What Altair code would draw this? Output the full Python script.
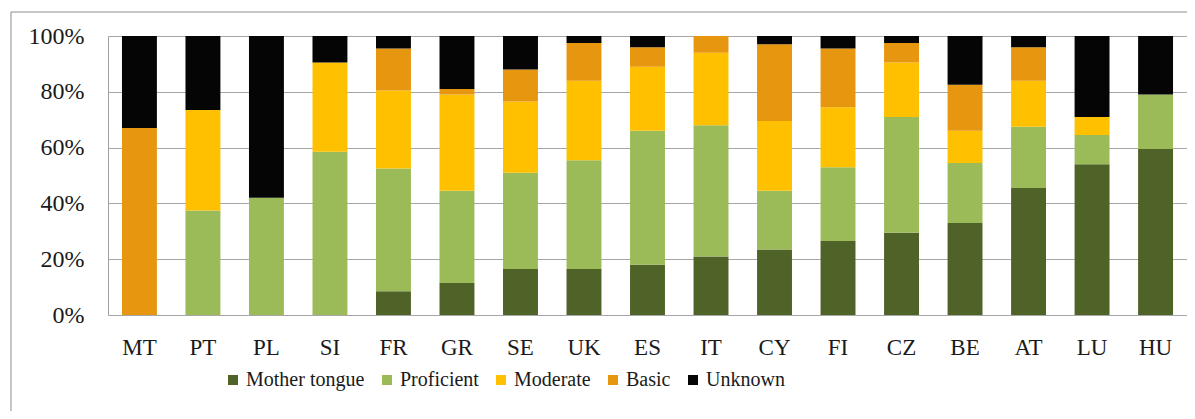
import altair as alt
import pandas as pd

countries = ["MT", "PT", "PL", "SI", "FR", "GR", "SE", "UK", "ES", "IT",
             "CY", "FI", "CZ", "BE", "AT", "LU", "HU"]
levels = ["Mother tongue", "Proficient", "Moderate", "Basic", "Unknown"]

mother_tongue = [0, 0, 0, 0, 8.5, 11.5, 16.5, 16.5, 18, 21, 23.5, 26.5, 29.5, 33, 45.5, 54, 59.5]
proficient = [0, 37.5, 42, 58.5, 44, 33, 34.5, 39, 48, 47, 21, 26.5, 41.5, 21.5, 22, 10.5, 19.5]
moderate = [0, 36, 0, 32, 28, 34.5, 25.5, 28.5, 23, 26, 25, 21.5, 19.5, 11.5, 16.5, 6.5, 0]
basic = [67, 0, 0, 0, 15, 2, 11.5, 13.5, 7, 6, 27.5, 21, 7, 16.5, 12, 0, 0]
unknown = [33, 26.5, 58, 9.5, 4.5, 19, 12, 2.5, 4, 0, 3, 4.5, 2.5, 17.5, 4, 29, 21]

colors = ["#4F6228", "#9BBB59", "#FFC000", "#E6960F", "#050505"]
y_ticks = [0, 20, 40, 60, 80, 100]
title_text = "language skills"

series = [mother_tongue, proficient, moderate, basic, unknown]
rows = []
for i, (name, vals) in enumerate(zip(levels, series)):
    for c, v in zip(countries, vals):
        rows.append({"country": c, "level": name, "value": v, "order": i})
df = pd.DataFrame(rows)

FONT = "Liberation Serif"

bars = alt.Chart(df).mark_bar().encode(
    x=alt.X("country:N", sort=countries,
            scale=alt.Scale(paddingInner=0.45, paddingOuter=0.22),
            axis=alt.Axis(title=None, labelAngle=0, ticks=False, domain=False,
                          labelFont=FONT, labelFontSize=23, labelColor="#1a1a1a",
                          labelPadding=21)),
    y=alt.Y("value:Q", stack="zero", scale=alt.Scale(domain=[0, 100]),
            axis=alt.Axis(values=y_ticks, labelExpr="datum.value + '%'", title=None,
                          ticks=False, tickSize=0, grid=True, gridColor="#a6a6a6",
                          domainColor="#a0a0a0", labelFont=FONT, labelFontSize=24,
                          labelColor="#1a1a1a", labelPadding=24)),
    color=alt.Color("level:N", scale=alt.Scale(domain=levels, range=colors),
                    legend=alt.Legend(title=None, orient="none", legendX=115, legendY=334,
                                      direction="horizontal", columns=5,
                                      symbolType="square", symbolSize=100,
                                      symbolStrokeWidth=0, symbolOpacity=1,
                                      labelFont=FONT, labelFontSize=20,
                                      labelColor="#1a1a1a", labelOffset=3,
                                      columnPadding=12, labelLimit=400)),
    order=alt.Order("order:Q", sort="ascending"),
)

one = pd.DataFrame({"k": [0]})
frame = alt.Chart(one).mark_rect(fill="transparent", stroke="#8c8c8c", strokeWidth=1).encode(
    x=alt.value(-97), x2=alt.value(1090), y=alt.value(-24), y2=alt.value(420)
)
title = alt.Chart(one).mark_text(text=title_text, font=FONT, fontWeight="bold",
                                 fontSize=30, align="left", baseline="alphabetic",
                                 color="black").encode(
    x=alt.value(-108), y=alt.value(-34)
)

chart = alt.layer(frame, bars, title).properties(
    width=1079, height=279,
    autosize=alt.AutoSizeParams(type="none"),
    padding={"left": 100, "top": 28, "right": 0, "bottom": 96},
    background="white",
).configure(font=FONT).configure_view(stroke=None)

chart.save("out.html", embed_options={"renderer": "svg", "actions": False})
